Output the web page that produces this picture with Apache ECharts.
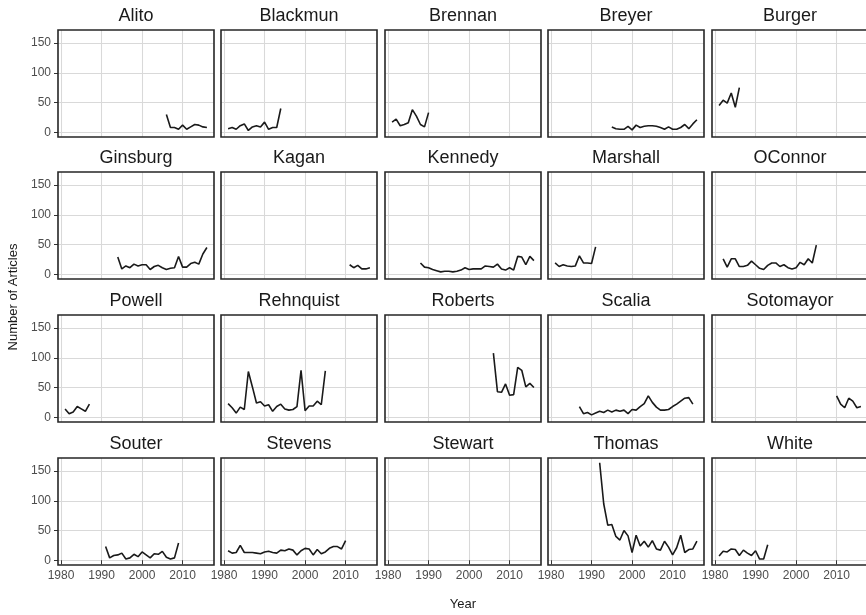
<!DOCTYPE html>
<html>
<head>
<meta charset="utf-8">
<script src="https://cdn.jsdelivr.net/npm/echarts@6/dist/echarts.min.js"></script>
<style>
html,body{margin:0;padding:0;background:#ffffff;}
#chart{width:866px;height:615px;}
</style>
</head>
<body>
<div id="chart"></div>
<script>
// ---- data ----
const justices = ['Alito','Blackmun','Brennan','Breyer','Burger',
                  'Ginsburg','Kagan','Kennedy','Marshall','OConnor',
                  'Powell','Rehnquist','Roberts','Scalia','Sotomayor',
                  'Souter','Stevens','Stewart','Thomas','White'];
const startYears = [2006,1981,1981,1995,1981,
                    1994,2011,1988,1981,1982,
                    1981,1981,2006,1987,2010,
                    1991,1981,1981,1992,1981];
const alito     = [30,8,8,5,12,5,9,13,12,9,8];
const blackmun  = [6,8,5,11,14,3,9,11,9,17,5,8,8,40];
const brennan   = [17,22,11,13,16,38,27,13,9,33];
const breyer    = [9,6,5,5,10,4,12,8,10,11,11,10,8,5,9,5,5,8,13,6,14,21];
const burger    = [45,54,49,66,42,75];
const ginsburg  = [29,9,14,11,17,14,16,16,8,13,15,11,8,10,11,30,12,12,18,20,17,34,45];
const kagan     = [16,11,15,9,9,11];
const kennedy   = [19,12,11,8,6,4,5,5,4,5,7,11,8,9,9,9,14,13,12,17,9,7,11,7,30,29,16,30,23];
const marshall  = [19,13,16,14,13,14,31,19,19,18,46];
const oconnor   = [26,12,26,26,13,13,15,22,16,10,8,15,19,19,13,16,11,9,11,20,16,26,19,49];
const powell    = [14,6,9,18,14,10,22];
const rehnquist = [23,16,7,17,13,77,51,24,26,19,21,10,18,22,14,12,13,18,79,11,19,19,27,21,78];
const roberts   = [108,43,42,56,37,38,84,79,51,57,50];
const scalia    = [18,6,8,4,7,10,8,12,9,12,10,12,6,13,12,18,23,36,25,17,12,12,13,18,22,27,32,33,22];
const sotomayor = [36,22,16,32,27,16,18];
const souter    = [23,4,8,9,12,2,4,10,6,14,9,4,11,10,15,5,2,4,29];
const stevens   = [16,12,13,25,13,13,13,12,11,14,15,13,12,17,16,19,17,9,16,20,19,9,18,11,14,20,23,23,19,33];
const stewart   = [];
const thomas    = [164,95,59,60,40,34,50,41,13,42,24,32,22,33,19,17,32,22,9,21,42,13,18,19,32];
const white     = [7,15,14,19,18,8,17,12,8,16,2,2,26];
const articleCounts = [alito,blackmun,brennan,breyer,burger,
                       ginsburg,kagan,kennedy,marshall,oconnor,
                       powell,rehnquist,roberts,scalia,sotomayor,
                       souter,stevens,stewart,thomas,white];
const xTicks = [1980,1990,2000,2010];
const yTicks = [0,50,100,150];
const xRange = [1979.25, 2017.75];
const yRange = [-8, 172];

// ---- layout ----
const FONT = '"Liberation Sans", Arial, Helvetica, sans-serif';
const colLeft = [58, 221, 385, 548, 712];
const rowTop = [30, 172, 315, 458];
const PW = 156, PH = 107;

const grids = [], xAxes = [], yAxes = [], series = [], graphics = [];
justices.forEach((name, i) => {
  const r = Math.floor(i / 5), c = i % 5;
  grids.push({
    left: colLeft[c], top: rowTop[r], width: PW, height: PH,
    show: true, borderWidth: 0, backgroundColor: '#ffffff',
    containLabel: false, outerBoundsMode: 'none', z: 0
  });
  xAxes.push({
    type: 'value', gridIndex: i, min: xRange[0], max: xRange[1], splitNumber: 4,
    axisLine: { show: false },
    axisTick: { show: r === 3, customValues: xTicks, length: 4, lineStyle: { color: '#333333', width: 1 } },
    axisLabel: { show: r === 3, customValues: xTicks, color: '#4d4d4d', fontSize: 12, fontFamily: FONT, margin: 5,
                 formatter: v => String(v) },
    splitLine: { show: true, lineStyle: { color: '#d9d9d9', width: 1.1 } }
  });
  yAxes.push({
    type: 'value', gridIndex: i, min: yRange[0], max: yRange[1], splitNumber: 4,
    axisLine: { show: false },
    axisTick: { show: c === 0, customValues: yTicks, length: 4, lineStyle: { color: '#333333', width: 1 } },
    axisLabel: { show: c === 0, customValues: yTicks, color: '#4d4d4d', fontSize: 12, fontFamily: FONT, margin: 7,
                 formatter: v => String(v) },
    splitLine: { show: true, lineStyle: { color: '#d9d9d9', width: 1.1 } }
  });
  series.push({
    type: 'line', name: name, xAxisIndex: i, yAxisIndex: i,
    data: articleCounts[i].map((v, k) => [startYears[i] + k, v]),
    symbol: 'none', silent: true, animation: false,
    lineStyle: { color: '#1a1a1a', width: 1.6 }
  });
  graphics.push({
    type: 'rect', z: 100, silent: true,
    shape: { x: colLeft[c], y: rowTop[r], width: PW, height: PH },
    style: { fill: 'none', stroke: '#262626', lineWidth: 1.6 }
  });
  graphics.push({
    type: 'text', x: colLeft[c] + PW / 2, y: rowTop[r] - 14,
    style: { text: name, fontSize: 18, fontFamily: FONT, fill: '#1a1a1a',
             textAlign: 'center', textVerticalAlign: 'middle', align: 'center', verticalAlign: 'middle' }
  });
});
graphics.push({
  type: 'text', x: 13, y: 297, rotation: Math.PI / 2,
  style: { text: 'Number of Articles', fontSize: 13, fontFamily: FONT, fill: '#1a1a1a',
           textAlign: 'center', textVerticalAlign: 'middle', align: 'center', verticalAlign: 'middle' }
});
graphics.push({
  type: 'text', x: 463, y: 604,
  style: { text: 'Year', fontSize: 13, fontFamily: FONT, fill: '#1a1a1a',
           textAlign: 'center', textVerticalAlign: 'middle', align: 'center', verticalAlign: 'middle' }
});

const chart = echarts.init(document.getElementById('chart'), null, { renderer: 'canvas' });
chart.setOption({
  backgroundColor: '#ffffff',
  animation: false,
  grid: grids,
  xAxis: xAxes,
  yAxis: yAxes,
  series: series,
  graphic: graphics
});
</script>
</body>
</html>
